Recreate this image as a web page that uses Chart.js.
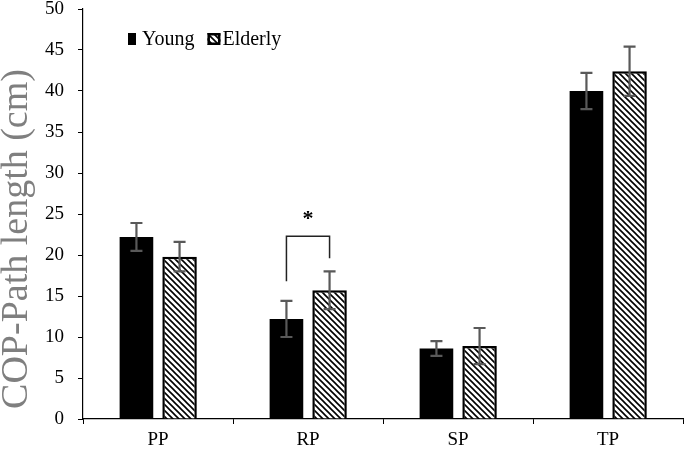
<!DOCTYPE html>
<html>
<head>
<meta charset="utf-8">
<script src="https://cdn.jsdelivr.net/npm/chart.js@4"></script>
<style>
  html, body { margin: 0; padding: 0; background: #fff; }
  #wrap { width: 685px; height: 450px; }
</style>
</head>
<body>
<div id="wrap"><canvas id="chart" width="685" height="450"></canvas></div>
<script>
// Data
const categories = ['PP', 'RP', 'SP', 'TP'];
const youngMean = [22.2, 12.2, 8.6, 40.0];
const youngErr = [1.7, 2.2, 0.9, 2.2];
const elderlyMean = [19.8, 15.7, 8.9, 42.4];
const elderlyErr = [1.8, 2.3, 2.2, 3.0];
const yTicks = [0, 5, 10, 15, 20, 25, 30, 35, 40, 45, 50];
const yTitle = 'COP-Path length (cm)';

// Significance bracket between RP young and RP elderly (data units)
const sigCategory = 1;
const sigTop = 22.3;
const sigLeftBottom = 16.8;
const sigRightBottom = 19.6;
const sigStarY = 24.9;

const serif = '"Liberation Serif", "Times New Roman", serif';

function makeHatch() {
    const c = document.createElement('canvas');
    c.width = 6; c.height = 6;
    const g = c.getContext('2d');
    g.fillStyle = '#fff';
    g.fillRect(0, 0, 6, 6);
    g.strokeStyle = '#000';
    g.lineWidth = 1.6;
    g.beginPath();
    g.moveTo(-1, -1); g.lineTo(7, 7);
    g.moveTo(-4, 2); g.lineTo(4, 10);
    g.moveTo(2, -4); g.lineTo(10, 4);
    g.stroke();
    return g.createPattern(c, 'repeat');
}
const hatch = makeHatch();

// error bars, bracket, legend and axis title drawn on top
const extras = {
    id: 'extras',
    afterDatasetsDraw(chart) {
        const ctx = chart.ctx;
        const y = chart.scales.y;
        const errs = [youngErr, elderlyErr];
        ctx.save();
        ctx.strokeStyle = '#595959';
        ctx.lineWidth = 2.2;
        chart.data.datasets.forEach((ds, di) => {
            const meta = chart.getDatasetMeta(di);
            meta.data.forEach((bar, i) => {
                const v = ds.data[i];
                const top = y.getPixelForValue(v + errs[di][i]);
                const bot = y.getPixelForValue(v - errs[di][i]);
                ctx.beginPath();
                ctx.moveTo(bar.x, top); ctx.lineTo(bar.x, bot);
                ctx.moveTo(bar.x - 6, top); ctx.lineTo(bar.x + 6, top);
                ctx.moveTo(bar.x - 6, bot); ctx.lineTo(bar.x + 6, bot);
                ctx.stroke();
            });
        });

        // bracket
        const xl = chart.getDatasetMeta(0).data[sigCategory].x;
        const xr = chart.getDatasetMeta(1).data[sigCategory].x;
        ctx.strokeStyle = '#222';
        ctx.lineWidth = 1.5;
        ctx.beginPath();
        ctx.moveTo(xl, y.getPixelForValue(sigLeftBottom));
        ctx.lineTo(xl, y.getPixelForValue(sigTop));
        ctx.lineTo(xr, y.getPixelForValue(sigTop));
        ctx.lineTo(xr, y.getPixelForValue(sigRightBottom));
        ctx.stroke();
        ctx.fillStyle = '#000';
        ctx.font = 'bold 22px ' + serif;
        ctx.textAlign = 'center';
        ctx.textBaseline = 'middle';
        ctx.fillText('*', (xl + xr) / 2, y.getPixelForValue(sigStarY) + 4);

        // legend inside plot area
        const area = chart.chartArea;
        let lx = area.left + 45;
        const ly = area.top + 30;
        ctx.font = '20px ' + serif;
        ctx.textAlign = 'left';
        ctx.textBaseline = 'middle';
        chart.data.datasets.forEach((ds, di) => {
            const bw = di === 0 ? 8 : 13;
            if (di === 0) {
                ctx.fillStyle = '#000';
                ctx.fillRect(lx, ly - 6, bw, 12);
            } else {
                ctx.fillStyle = hatch;
                ctx.fillRect(lx, ly - 6, bw, 12);
                ctx.strokeStyle = '#000';
                ctx.lineWidth = 2.5;
                ctx.strokeRect(lx + 1.25, ly - 4.75, bw - 2.5, 9.5);
            }
            const gap = di === 0 ? 6 : 2;
            ctx.fillStyle = '#000';
            ctx.fillText(ds.label, lx + bw + gap, ly + 1);
            lx += bw + gap + ctx.measureText(ds.label).width + 13;
        });

        // y axis title
        ctx.save();
        ctx.translate(17, (area.top + area.bottom) / 2 + 25);
        ctx.rotate(-Math.PI / 2);
        ctx.font = '38px ' + serif;
        ctx.fillStyle = '#7f7f7f';
        ctx.textAlign = 'center';
        ctx.textBaseline = 'middle';
        ctx.fillText(yTitle, 0, 0);
        ctx.restore();
        ctx.restore();
    }
};

new Chart(document.getElementById('chart'), {
    type: 'bar',
    data: {
        labels: categories,
        datasets: [
            {
                label: 'Young',
                data: youngMean,
                backgroundColor: '#000',
                borderColor: '#000',
                borderWidth: 0,
                categoryPercentage: 0.575,
                barPercentage: 0.78
            },
            {
                label: 'Elderly',
                data: elderlyMean,
                backgroundColor: hatch,
                borderColor: '#000',
                borderWidth: 2.5,
                categoryPercentage: 0.575,
                barPercentage: 0.8
            }
        ]
    },
    options: {
        responsive: false,
        animation: false,
        layout: { padding: { top: 0, right: 2, left: 31, bottom: 0 } },
        plugins: {
            legend: { display: false },
            tooltip: { enabled: false }
        },
        scales: {
            x: {
                afterFit(scale) {
                    scale.height = 31;
                },
                grid: {
                    display: true,
                    drawOnChartArea: false,
                    offset: true,
                    color: '#000',
                    tickLength: 5
                },
                border: { color: '#000', width: 1.2 },
                ticks: {
                    color: '#000',
                    font: { family: serif, size: 19, lineHeight: 1 },
                    padding: 7
                }
            },
            y: {
                min: 0,
                max: 50,
                afterBuildTicks(scale) {
                    scale.ticks = yTicks.map(v => ({ value: v }));
                },
                afterFit(scale) {
                    scale.paddingTop = 9;
                },
                grid: {
                    display: true,
                    drawOnChartArea: false,
                    color: '#000',
                    tickLength: 5
                },
                border: { color: '#000', width: 1.2 },
                ticks: {
                    color: '#000',
                    font: { family: serif, size: 19 },
                    padding: 14
                }
            }
        }
    },
    plugins: [extras]
});
</script>
</body>
</html>
